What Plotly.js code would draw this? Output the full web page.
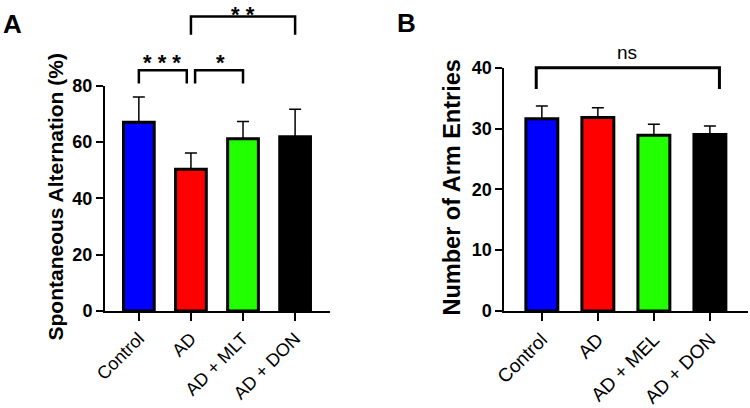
<!DOCTYPE html>
<html>
<head>
<meta charset="utf-8">
<script src="https://cdn.plot.ly/plotly-3.0.1.min.js"></script>
<style>html,body{margin:0;padding:0;background:#fff;}#chart{width:750px;height:408px;}</style>
</head>
<body>
<div id="chart"></div>
<script>
// ---- Data ----
const categoriesA = ["Control", "AD", "AD + MLT", "AD + DON"];
const valuesA = [67.0, 50.3, 61.2, 61.9];
const errorsA = [9.0, 5.8, 6.1, 9.7];
const categoriesB = ["Control", "AD", "AD + MEL", "AD + DON"];
const valuesB = [31.6, 31.8, 28.9, 29.0];
const errorsB = [2.1, 1.6, 1.8, 1.4];
const noLowerError = [0, 0, 0, 0];
const barColors = ["#0000ff", "#ff0000", "#22ff00", "#000000"];
const yTicksA = [0, 20, 40, 60, 80];
const yTicksB = [0, 10, 20, 30, 40];

// ---- Layout geometry ----
const W = 750, H = 408;
const domXA = [105 / W, 330 / W], domYA = [1 - 311 / H, 1 - 85.7 / H];
const domXB = [504.3 / W, 748 / W], domYB = [1 - 311 / H, 1 - 67.7 / H];
const rngXA = [-0.65, 3.67], rngYA = [0, 80];
const rngXB = [-0.67, 3.68], rngYB = [0, 40];

function toPaper(v, dom, rng) { return dom[0] + (v - rng[0]) / (rng[1] - rng[0]) * (dom[1] - dom[0]); }
function bracket(x0, x1, yLeg0, yLeg1, yTop, domX, domY, rngX, rngY, w) {
  const X0 = toPaper(x0, domX, rngX), X1 = toPaper(x1, domX, rngX);
  const L0 = toPaper(yLeg0, domY, rngY), L1 = toPaper(yLeg1, domY, rngY), T = toPaper(yTop, domY, rngY);
  return { type: 'path', xref: 'paper', yref: 'paper',
    path: `M${X0},${L0} L${X0},${T} L${X1},${T} L${X1},${L1}`,
    line: { color: 'black', width: w } };
}

const fontFam = '"Liberation Sans", Arial, sans-serif';

const traceA = {
  type: 'bar', x: categoriesA, y: valuesA, xaxis: 'x', yaxis: 'y', width: 0.59,
  marker: { color: barColors, line: { color: 'black', width: 3 } },
  error_y: { type: 'data', symmetric: false, array: errorsA, arrayminus: noLowerError, color: 'black', thickness: 1.5, width: 6 },
  hoverinfo: 'none'
};
const traceB = {
  type: 'bar', x: categoriesB, y: valuesB, xaxis: 'x2', yaxis: 'y2', width: 0.57,
  marker: { color: barColors, line: { color: 'black', width: 3 } },
  error_y: { type: 'data', symmetric: false, array: errorsB, arrayminus: noLowerError, color: 'black', thickness: 1.5, width: 6 },
  hoverinfo: 'none'
};

const xCommon = { showgrid: false, zeroline: false, showline: true, linecolor: 'black', linewidth: 2,
  ticks: 'outside', ticklen: 8, tickwidth: 2, tickcolor: 'black', tickangle: -45, fixedrange: true };
const yCommon = { showgrid: false, zeroline: false, showline: true, linecolor: 'black', linewidth: 2,
  ticks: 'outside', ticklen: 7, tickwidth: 2, tickcolor: 'black', fixedrange: true,
  tickfont: { family: fontFam, size: 18, color: 'black', weight: 'bold' } };

const layout = {
  width: W, height: H, margin: { l: 0, r: 0, t: 0, b: 0 },
  paper_bgcolor: 'white', plot_bgcolor: 'white', showlegend: false,
  font: { family: fontFam, color: 'black' },
  xaxis: Object.assign({}, xCommon, { domain: domXA, range: rngXA, anchor: 'y',
    tickfont: { family: fontFam, size: 18, color: 'black' } }),
  yaxis: Object.assign({}, yCommon, { domain: domYA, range: rngYA, anchor: 'x', tickvals: yTicksA }),
  xaxis2: Object.assign({}, xCommon, { domain: domXB, range: rngXB, anchor: 'y2',
    tickfont: { family: fontFam, size: 19, color: 'black' } }),
  yaxis2: Object.assign({}, yCommon, { domain: domYB, range: rngYB, anchor: 'x2', tickvals: yTicksB }),
  shapes: [
    bracket(0, 0.92, 80.8, 80.8, 85.5, domXA, domYA, rngXA, rngYA, 2.5),
    bracket(1.08, 2, 80.8, 80.8, 85.5, domXA, domYA, rngXA, rngYA, 2.5),
    bracket(1, 3, 98.1, 98.1, 104.6, domXA, domYA, rngXA, rngYA, 2.5),
    bracket(-0.1, 3.17, 36.5, 36.5, 40, domXB, domYB, rngXB, rngYB, 3)
  ],
  annotations: [
    { text: 'A', xref: 'paper', yref: 'paper', x: 12 / W, y: 1 - 24 / H, showarrow: false, xanchor: 'center', yanchor: 'middle',
      font: { family: fontFam, size: 26, weight: 'bold', color: 'black' } },
    { text: 'B', xref: 'paper', yref: 'paper', x: 406 / W, y: 1 - 23 / H, showarrow: false, xanchor: 'center', yanchor: 'middle',
      font: { family: fontFam, size: 26, weight: 'bold', color: 'black' } },
    { text: 'Spontaneous Alternation (%)', xref: 'paper', yref: 'paper', x: 55 / W, y: 1 - 197.5 / H, textangle: -90,
      showarrow: false, xanchor: 'center', yanchor: 'middle', font: { family: fontFam, size: 21, weight: 'bold', color: 'black' } },
    { text: 'Number of Arm Entries', xref: 'paper', yref: 'paper', x: 452 / W, y: 1 - 187.5 / H, textangle: -90,
      showarrow: false, xanchor: 'center', yanchor: 'middle', font: { family: fontFam, size: 23.5, weight: 'bold', color: 'black' } },
    { text: '* * *', xref: 'paper', yref: 'paper', x: 162 / W, y: 1 - 62 / H, showarrow: false, xanchor: 'center', yanchor: 'middle',
      font: { family: fontFam, size: 22, weight: 'bold', color: 'black' } },
    { text: '*', xref: 'paper', yref: 'paper', x: 220 / W, y: 1 - 62 / H, showarrow: false, xanchor: 'center', yanchor: 'middle',
      font: { family: fontFam, size: 22, weight: 'bold', color: 'black' } },
    { text: '* *', xref: 'paper', yref: 'paper', x: 243 / W, y: 1, showarrow: false, xanchor: 'center', yanchor: 'top',
      font: { family: fontFam, size: 22, weight: 'bold', color: 'black' } },
    { text: 'ns', xref: 'paper', yref: 'paper', x: 627 / W, y: 1 - 52 / H, showarrow: false, xanchor: 'center', yanchor: 'middle',
      font: { family: fontFam, size: 19, color: 'black' } }
  ]
};

Plotly.newPlot('chart', [traceA, traceB], layout, { staticPlot: true, displayModeBar: false });
</script>
</body>
</html>
